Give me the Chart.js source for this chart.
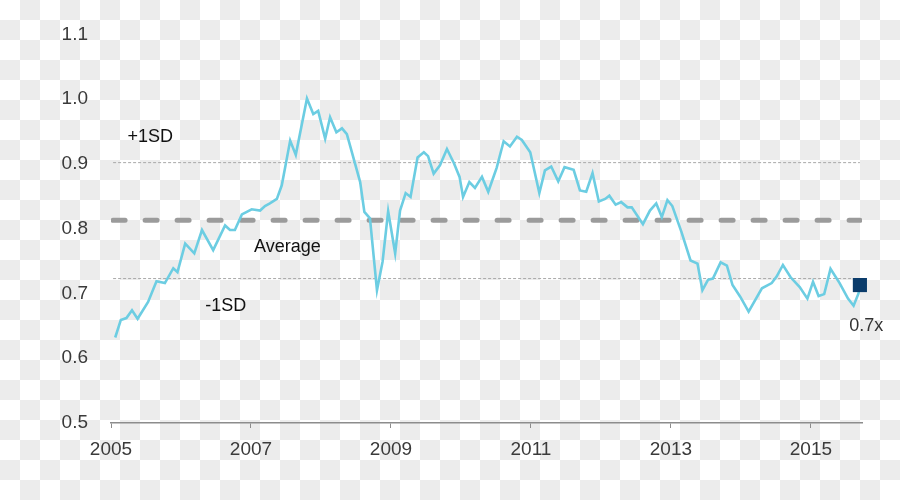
<!DOCTYPE html>
<html>
<head>
<meta charset="utf-8">
<script src="https://cdn.jsdelivr.net/npm/chart.js"></script>
<style>
  html, body { margin: 0; padding: 0; }
  body {
    width: 900px; height: 500px;
    background: repeating-conic-gradient(#ececec 0 25%, #ffffff 0 50%) 0 0 / 40px 40px;
  }
  canvas { display: block; }
</style>
</head>
<body>
<canvas id="chart" width="900" height="500"></canvas>
<script>
// valuation multiple (decimal year, ratio)
const dates = [
  2005.06, 2005.14, 2005.22, 2005.30, 2005.38, 2005.53, 2005.65, 2005.77, 2005.89, 2005.95,
  2006.06, 2006.19, 2006.30, 2006.46, 2006.63, 2006.70, 2006.77, 2006.87, 2007.01, 2007.13,
  2007.20, 2007.27, 2007.37, 2007.44, 2007.56, 2007.64, 2007.80, 2007.89, 2007.96, 2008.06,
  2008.13, 2008.22, 2008.30, 2008.37, 2008.56, 2008.62, 2008.70, 2008.80, 2008.88, 2008.96,
  2009.06, 2009.13, 2009.21, 2009.28, 2009.38, 2009.47, 2009.53, 2009.61, 2009.70, 2009.80,
  2009.90, 2009.98, 2010.03, 2010.12, 2010.20, 2010.30, 2010.39, 2010.51, 2010.61, 2010.70,
  2010.80, 2010.87, 2010.99, 2011.12, 2011.20, 2011.29, 2011.39, 2011.48, 2011.61, 2011.70,
  2011.79, 2011.88, 2011.97, 2012.06, 2012.12, 2012.21, 2012.29, 2012.38, 2012.44, 2012.60,
  2012.70, 2012.79, 2012.87, 2012.95, 2013.02, 2013.15, 2013.28, 2013.38, 2013.45, 2013.53,
  2013.60, 2013.71, 2013.80, 2013.88, 2013.99, 2014.11, 2014.30, 2014.44, 2014.51, 2014.60,
  2014.71, 2014.84, 2014.95, 2015.03, 2015.11, 2015.19, 2015.28, 2015.41, 2015.53, 2015.61,
  2015.68, 2015.70
];
const ratios = [
  0.632, 0.659, 0.662, 0.674, 0.661, 0.687, 0.719, 0.716, 0.739, 0.733,
  0.777, 0.762, 0.798, 0.767, 0.805, 0.798, 0.798, 0.822, 0.830, 0.828,
  0.835, 0.839, 0.846, 0.867, 0.936, 0.914, 1.001, 0.977, 0.982, 0.939,
  0.972, 0.949, 0.955, 0.946, 0.872, 0.826, 0.816, 0.705, 0.749, 0.827,
  0.762, 0.828, 0.855, 0.849, 0.910, 0.918, 0.912, 0.885, 0.898, 0.923,
  0.901, 0.880, 0.849, 0.872, 0.863, 0.880, 0.857, 0.894, 0.935, 0.927,
  0.942, 0.937, 0.918, 0.855, 0.890, 0.896, 0.873, 0.895, 0.891, 0.859,
  0.857, 0.886, 0.842, 0.846, 0.851, 0.837, 0.841, 0.833, 0.833, 0.807,
  0.828, 0.839, 0.818, 0.844, 0.835, 0.795, 0.751, 0.746, 0.705, 0.721,
  0.723, 0.748, 0.743, 0.713, 0.695, 0.672, 0.708, 0.716, 0.726, 0.744,
  0.725, 0.710, 0.692, 0.718, 0.696, 0.699, 0.738, 0.716, 0.692, 0.681,
  0.700, 0.713
];

const avgLevel = 0.813;
const plusSD = 0.902;
const minusSD = 0.723;
const lineSpan = [2005.03, 2015.70];

const latestDate = 2015.70;
const latestValue = 0.713;

const xTicks = [2005, 2007, 2009, 2011, 2013, 2015];
const yMin = 0.5, yMax = 1.1, yStep = 0.1;

// text labels: [text, x(year), y(value), colour]
const notes = [
  ['+1SD', 2005.56, 0.942, '#111'],
  ['Average', 2007.52, 0.772, '#111'],
  ['-1SD', 2006.64, 0.681, '#111'],
  ['0.7x', 2015.79, 0.649, '#333']
];

const FONT = "'Liberation Sans', Arial, sans-serif";

function flatLine(level) {
  return lineSpan.map(x => ({ x: x, y: level }));
}

const notesPlugin = {
  id: 'notes',
  afterDatasetsDraw(chart) {
    const ctx = chart.ctx;
    const xs = chart.scales.x, ys = chart.scales.y;
    ctx.save();
    ctx.font = '18px ' + FONT;
    ctx.textAlign = 'center';
    ctx.textBaseline = 'middle';
    notes.forEach(n => {
      ctx.fillStyle = n[3];
      ctx.fillText(n[0], xs.getPixelForValue(n[1]), ys.getPixelForValue(n[2]));
    });
    ctx.restore();
  }
};

new Chart(document.getElementById('chart'), {
  type: 'line',
  data: {
    datasets: [
      {
        data: flatLine(plusSD),
        borderColor: '#a8a8a8', borderWidth: 1, borderDash: [3, 2],
        pointRadius: 0, order: 3
      },
      {
        data: flatLine(minusSD),
        borderColor: '#a8a8a8', borderWidth: 1, borderDash: [3, 2],
        pointRadius: 0, order: 3
      },
      {
        data: flatLine(avgLevel),
        borderColor: '#9b9b9b', borderWidth: 5, borderDash: [12, 20],
        borderCapStyle: 'round', pointRadius: 0, order: 2
      },
      {
        data: dates.map((d, i) => ({ x: d, y: ratios[i] })),
        borderColor: '#6ccde2', borderWidth: 2.6, tension: 0,
        pointRadius: 0, order: 1
      },
      {
        data: [{ x: latestDate, y: latestValue }],
        showLine: false, pointStyle: 'rect', pointRadius: 10,
        pointBackgroundColor: '#0b3c6b', pointBorderColor: '#0b3c6b',
        pointBorderWidth: 0, clip: false, order: 0
      }
    ]
  },
  options: {
    responsive: false,
    animation: false,
    devicePixelRatio: 1,
    layout: { padding: { left: 0, right: 38, top: 33, bottom: 0 } },
    plugins: { legend: { display: false }, tooltip: { enabled: false } },
    scales: {
      x: {
        type: 'linear',
        min: 2005,
        max: 2015.73,
        afterBuildTicks: s => { s.ticks = xTicks.map(v => ({ value: v })); },
        afterFit: s => { s.height = 77; },
        border: { display: true, color: '#8c8c8c', width: 1.5 },
        grid: { drawOnChartArea: false, drawTicks: true, tickLength: 5, color: '#8c8c8c' },
        ticks: {
          callback: v => String(v),
          color: '#3a3a3a',
          font: { family: FONT, size: 19 },
          padding: 10,
          maxRotation: 0
        }
      },
      y: {
        min: yMin,
        max: yMax,
        afterFit: s => { s.width = 111; },
        border: { display: false },
        grid: { display: false, drawTicks: false },
        ticks: {
          stepSize: yStep,
          callback: v => v.toFixed(1),
          color: '#3a3a3a',
          font: { family: FONT, size: 19 },
          padding: 23
        }
      }
    }
  },
  plugins: [notesPlugin]
});
</script>
</body>
</html>
